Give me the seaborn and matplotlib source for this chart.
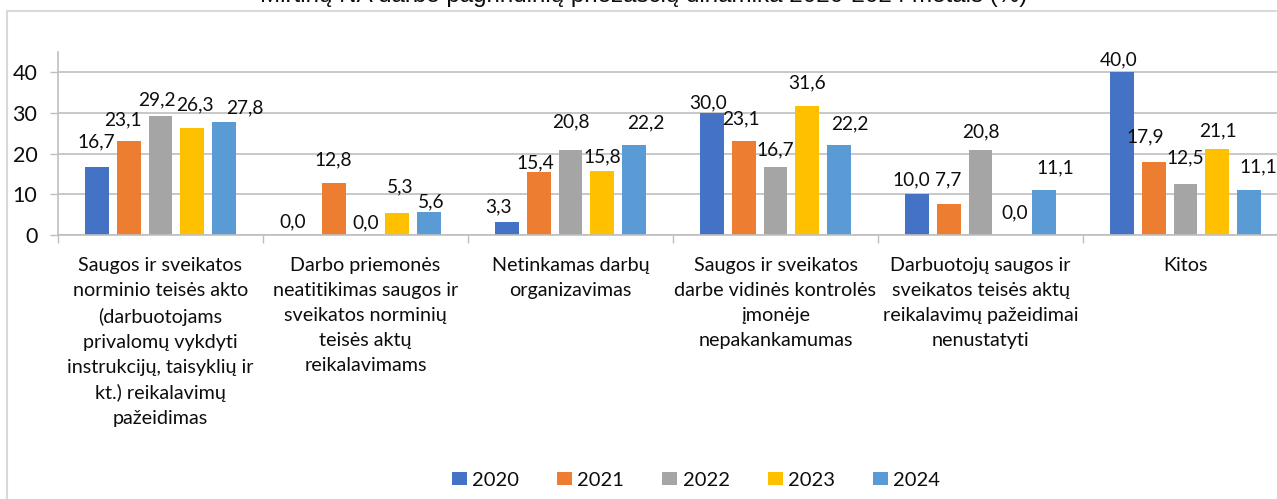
import matplotlib
matplotlib.use("Agg")
import matplotlib.pyplot as plt
from matplotlib.patches import Rectangle
import seaborn as sns
import pandas as pd

# Categories (main causes) and years
categories = [
    "Saugos ir sveikatos\nnorminio teisės akto\n(darbuotojams\nprivalomų vykdyti\ninstrukcijų, taisyklių ir\nkt.) reikalavimų\npažeidimas",
    "Darbo priemonės\nneatitikimas saugos ir\nsveikatos norminių\nteisės aktų\nreikalavimams",
    "Netinkamas darbų\norganizavimas",
    "Saugos ir sveikatos\ndarbe vidinės kontrolės\nįmonėje\nnepakankamumas",
    "Darbuotojų saugos ir\nsveikatos teisės aktų\nreikalavimų pažeidimai\nnenustatyti",
    "Kitos",
]
years = ["2020", "2021", "2022", "2023", "2024"]

# Share (%) per year, one list per year in category order
v2020 = [16.7, 0.0, 3.3, 30.0, 10.0, 40.0]
v2021 = [23.1, 12.8, 15.4, 23.1, 7.7, 17.9]
v2022 = [29.2, 0.0, 20.8, 16.7, 20.8, 12.5]
v2023 = [26.3, 5.3, 15.8, 31.6, 0.0, 21.1]
v2024 = [27.8, 5.6, 22.2, 22.2, 11.1, 11.1]
series = [v2020, v2021, v2022, v2023, v2024]

y_ticks = [0, 10, 20, 30, 40]
title = "Mirtinų NA darbe pagrindinių priežasčių dinamika 2020-2024 metais (%)"

colors = ["#4472C4", "#ED7D31", "#A5A5A5", "#FFC000", "#5B9BD5"]

# Value label placement (pixels): vertical gap above the bar top and
# horizontal nudge, per year / category
label_gap = [
    [20, 8, 9, 5, 9, 7],
    [16, 18, 4, 17, 18, 20],
    [11, 7, 23, 12, 13, 21],
    [18, 21, 8, 18, 17, 13],
    [9, 5, 16, 15, 16, 17],
]
label_shift = [
    [0, -9, -8, -3, -5, -3],
    [-6, 0, -3, -3, 0, -8],
    [-4, 0, 0, 0, 0, 0],
    [2, 3, 0, 0, 2, 0],
    [20, 2, 11, 10, 11, 9],
]

rows = []
for year, vals in zip(years, series):
    for cat, v in zip(categories, vals):
        rows.append({"cause": cat, "year": year, "value": v})
df = pd.DataFrame(rows)

sns.set_theme(style="white")
plt.rcParams["font.family"] = ["Lato", "DejaVu Sans"]
text_color = "#0d0d0d"

W, H = 1277, 499
fig = plt.figure(figsize=(W / 100, H / 100), dpi=100)
fig.patch.set_facecolor("white")

# Chart frame
fig.patches.append(Rectangle((7 / W, -0.2), 1.5, (H - 11) / H + 0.2,
                             transform=fig.transFigure, fill=False,
                             edgecolor="#D9D9D9", linewidth=1.5, zorder=0))

ax = fig.add_axes([58 / W, (H - 235) / H, 1230 / W, 183 / H])

sns.barplot(data=df, x="cause", y="value", hue="year", order=categories,
            hue_order=years, palette=colors, width=0.78, gap=0.25,
            saturation=1, ax=ax, legend=True, edgecolor="none")

for ci, cont in enumerate(ax.containers):
    for bi, bar in enumerate(cont):
        val = series[ci][bi]
        ax.annotate(f"{val:.1f}".replace(".", ","),
                    xy=(bar.get_x() + bar.get_width() / 2, bar.get_height()),
                    xytext=(label_shift[ci][bi], label_gap[ci][bi]),
                    textcoords="offset pixels",
                    ha="center", va="baseline", fontsize=13.8, color=text_color)

ax.set_ylim(0, 45)
ax.set_xlim(-0.5, len(categories) - 0.5)
ax.set_yticks(y_ticks)
ax.set_yticklabels([str(t) for t in y_ticks])
ax.yaxis.grid(True, color="#BFBFBF", linewidth=1.2)
ax.set_axisbelow(True)
ax.set_xlabel("")
ax.set_ylabel("")

for s in ["top", "right"]:
    ax.spines[s].set_visible(False)
for s in ["left", "bottom"]:
    ax.spines[s].set_color("#BFBFBF")
    ax.spines[s].set_linewidth(1.2)

ax.tick_params(axis="y", which="major", length=5.8, width=1.0, color="#BFBFBF",
               pad=9, labelsize=15.5, labelcolor=text_color, left=True)
ax.tick_params(axis="x", which="major", length=0, pad=16, labelsize=14.2,
               labelcolor=text_color)
for lbl in ax.get_xticklabels():
    lbl.set_linespacing(1.57)
    lbl.set_ha("center")
    lbl.set_va("top")

# Category boundary ticks
ax.set_xticks([i - 0.5 for i in range(len(categories) + 1)], minor=True)
ax.tick_params(axis="x", which="minor", length=5.8, width=1.0, color="#BFBFBF",
               bottom=True)

handles, labels = ax.get_legend_handles_labels()
ax.legend_.remove()
fig.legend(handles, labels, loc="center", bbox_to_anchor=(696 / W, 19 / H),
           ncol=5, frameon=False, fontsize=14.5, handlelength=0.75,
           handleheight=0.65, handletextpad=0.25, columnspacing=1.9,
           labelcolor=text_color)

fig.text(644 / W, 1 - 2 / H, title, ha="center", va="baseline",
         fontsize=17.4, family=["Liberation Sans", "DejaVu Sans"], color=text_color)

fig.savefig("out.png", dpi=100, facecolor="white")
